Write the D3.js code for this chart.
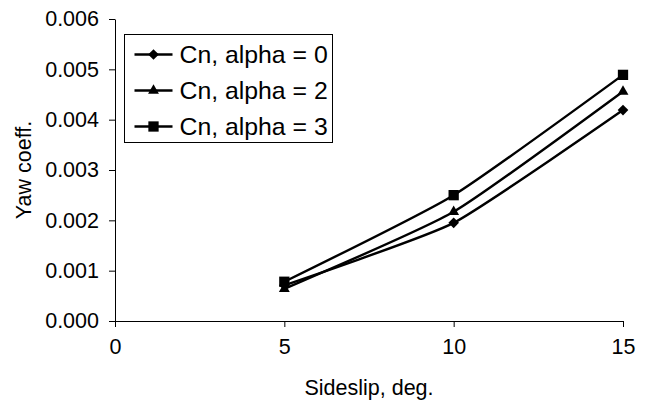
<!DOCTYPE html>
<html>
<head>
<meta charset="utf-8">
<script src="https://cdn.jsdelivr.net/npm/d3@7"></script>
<style>
  body { margin: 0; background: #fff; }
  svg { display: block; font-family: "Liberation Sans", Arial, sans-serif; }
</style>
</head>
<body>
<div id="chart"></div>
<script>
// Sideslip angles (deg.)
const sideslip = [5, 10, 15];
// Yaw coefficient for each angle of attack
const cnAlpha0 = [0.00071, 0.00195, 0.00419];
const cnAlpha2 = [0.00064, 0.00217, 0.00456];
const cnAlpha3 = [0.00078, 0.00250, 0.00489];
const seriesNames = ['Cn, alpha = 0', 'Cn, alpha = 2', 'Cn, alpha = 3'];
const markerTypes = ['diamond', 'triangle', 'square'];
const xTicks = [0, 5, 10, 15];
const yTicks = [0, 0.001, 0.002, 0.003, 0.004, 0.005, 0.006];

const width = 647, height = 401;
const margin = { top: 19, right: 24, bottom: 80, left: 115 };
const innerW = width - margin.left - margin.right;
const innerH = height - margin.top - margin.bottom;

const series = [cnAlpha0, cnAlpha2, cnAlpha3].map((vals, i) => ({
  name: seriesNames[i],
  marker: markerTypes[i],
  points: sideslip.map((x, j) => ({ x, y: vals[j] }))
}));

const svg = d3.select('#chart').append('svg')
  .attr('width', width)
  .attr('height', height);

const g = svg.append('g').attr('transform', `translate(${margin.left},${margin.top})`);

const x = d3.scaleLinear().domain([0, 15]).range([0, innerW]);
const y = d3.scaleLinear().domain([0, 0.006]).range([innerH, 0]);

// axes
const xAxis = g.append('g')
  .attr('transform', `translate(0,${innerH})`)
  .call(d3.axisBottom(x).tickValues(xTicks).tickSizeOuter(0).tickSizeInner(6).tickPadding(12));
const yAxis = g.append('g')
  .call(d3.axisLeft(y).tickValues(yTicks).tickFormat(d3.format('.3f')).tickSizeOuter(0).tickSizeInner(6).tickPadding(10));

[xAxis, yAxis].forEach(a => {
  a.select('.domain').attr('stroke', '#000').attr('stroke-width', 1);
  a.selectAll('.tick line').attr('stroke', '#000');
  a.selectAll('.tick text')
    .attr('fill', '#000')
    .style('font-size', '21.5px')
    .style('font-family', '"Liberation Sans", Arial, sans-serif');
});

// axis titles
svg.append('text')
  .attr('x', margin.left + innerW / 2)
  .attr('y', 395)
  .attr('text-anchor', 'middle')
  .style('font-size', '21.5px')
  .text('Sideslip, deg.');

svg.append('text')
  .attr('transform', `translate(31,${margin.top + innerH / 2}) rotate(-90)`)
  .attr('text-anchor', 'middle')
  .style('font-size', '21.5px')
  .text('Yaw coeff.');

// markers
const symbolFor = {
  diamond: d3.symbol().type(d3.symbolDiamond2).size(72),
  triangle: d3.symbol().type(d3.symbolTriangle2).size(85),
  square: d3.symbol().type(d3.symbolSquare2).size(135)
};

const line = d3.line()
  .x(d => x(d.x))
  .y(d => y(d.y))
  .curve(d3.curveCardinal.tension(0.5));

series.forEach(s => {
  g.append('path')
    .datum(s.points)
    .attr('fill', 'none')
    .attr('stroke', '#000')
    .attr('stroke-width', 2.4)
    .attr('d', line);
});

series.forEach(s => {
  g.selectAll(null)
    .data(s.points)
    .join('path')
      .attr('transform', d => `translate(${x(d.x)},${y(d.y)})`)
      .attr('d', symbolFor[s.marker]())
      .attr('fill', '#000');
});

// legend
const legend = svg.append('g').attr('transform', 'translate(124.5,34.5)');
legend.append('rect')
  .attr('width', 208)
  .attr('height', 108)
  .attr('fill', '#fff')
  .attr('stroke', '#000')
  .attr('stroke-width', 1);

series.forEach((s, i) => {
  const row = legend.append('g').attr('transform', `translate(0,${20 + i * 36})`);
  row.append('line')
    .attr('x1', 10).attr('x2', 48)
    .attr('stroke', '#000').attr('stroke-width', 2.4);
  row.append('path')
    .attr('transform', 'translate(29,0)')
    .attr('d', symbolFor[s.marker]())
    .attr('fill', '#000');
  row.append('text')
    .attr('x', 55)
    .attr('dy', '0.35em')
    .style('font-size', '24.8px')
    .text(s.name);
});
</script>
</body>
</html>
